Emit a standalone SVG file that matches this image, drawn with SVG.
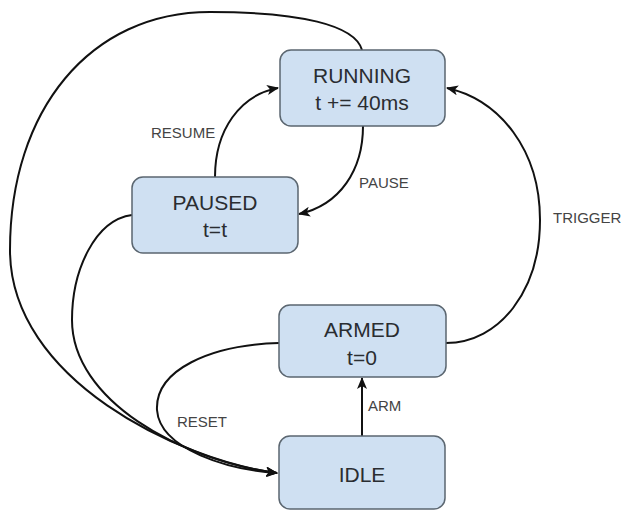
<svg xmlns="http://www.w3.org/2000/svg" width="623" height="512" viewBox="0 0 623 512">
  <style>
    .node rect { fill: #cfe0f2; stroke: #5b6670; stroke-width: 1.5; }
    .node text { font-family: "Liberation Sans", Arial, sans-serif; font-size: 21px; fill: #2a2d31; text-anchor: middle; }
    .edge { fill: none; stroke: #111; stroke-width: 2; }
    .lbl { font-family: "Liberation Sans", Arial, sans-serif; font-size: 15px; fill: #444; }
  </style>
  <defs>
    <marker id="arrow" viewBox="0 0 12 10" refX="11" refY="5" markerWidth="12" markerHeight="10" markerUnits="userSpaceOnUse" orient="auto">
      <path d="M0,0 L12,5 L0,10 L3,5 Z" fill="#111"/>
    </marker>
  </defs>
  <rect width="623" height="512" fill="#fff"/>

  <g id="connectors">
    <!-- RUNNING -> IDLE (outer loop) -->
    <path class="edge" d="M362,50 C355,25 300,12 210,12 C90,12 10,110 10,250 C10,380 180,460 277,473" marker-end="url(#arrow)"/>
    <!-- PAUSED -> IDLE -->
    <path class="edge" d="M132,215 C95,220 72,270 72,320 C72,400 180,460 277,473" marker-end="url(#arrow)"/>
    <!-- ARMED -> IDLE (RESET) -->
    <path class="edge" d="M279,343 C210,345 155,370 157,410 C160,450 230,470 277,473" marker-end="url(#arrow)"/>
    <!-- PAUSED -> RUNNING (RESUME) -->
    <path class="edge" d="M215,177 C215,130 240,95 278,88" marker-end="url(#arrow)"/>
    <!-- RUNNING -> PAUSED (PAUSE) -->
    <path class="edge" d="M363,126 C363,170 340,205 299,214" marker-end="url(#arrow)"/>
    <!-- ARMED -> RUNNING (TRIGGER) -->
    <path class="edge" d="M446,343 C500,343 540,290 540,220 C540,150 500,100 447,88" marker-end="url(#arrow)"/>
    <!-- IDLE -> ARMED (ARM) -->
    <path class="edge" d="M362,436 L362,378" marker-end="url(#arrow)"/>

    <text class="lbl" x="151" y="138">RESUME</text>
    <text class="lbl" x="359" y="188">PAUSE</text>
    <text class="lbl" x="553" y="223">TRIGGER</text>
    <text class="lbl" x="177" y="427">RESET</text>
    <text class="lbl" x="368" y="411">ARM</text>
  </g>

  <g id="running" class="node">
    <rect x="280" y="50" width="165" height="76" rx="11"/>
    <text x="362" y="83">RUNNING</text>
    <text x="362" y="110">t += 40ms</text>
  </g>
  <g id="paused" class="node">
    <rect x="132" y="177" width="166" height="76" rx="11"/>
    <text x="215" y="210">PAUSED</text>
    <text x="215" y="237">t=t</text>
  </g>
  <g id="armed" class="node">
    <rect x="279" y="305" width="167" height="72" rx="11"/>
    <text x="362" y="337">ARMED</text>
    <text x="362" y="365">t=0</text>
  </g>
  <g id="idle" class="node">
    <rect x="279" y="436" width="166" height="73" rx="11"/>
    <text x="362" y="482">IDLE</text>
  </g>
</svg>
